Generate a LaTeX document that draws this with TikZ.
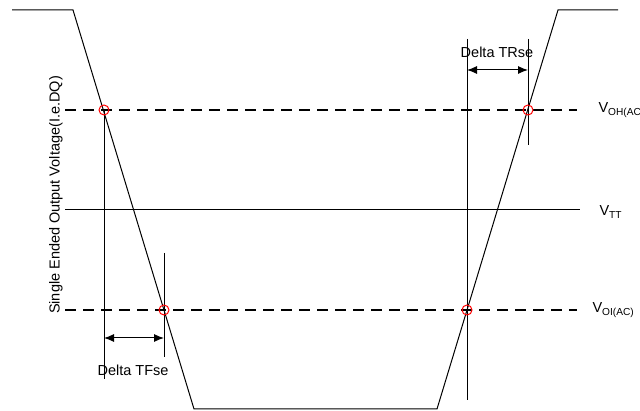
\documentclass[tikz,border=0pt]{standalone}
\usepackage{fontspec}
\setmainfont{Liberation Sans}
\usepackage{tikz}
\usetikzlibrary{arrows.meta}

\begin{document}
\begin{tikzpicture}[x=1pt,y=-1pt,line width=1pt,
    lvl/.style={line width=2.4pt,dash pattern=on 11pt off 7pt},
    tick/.style={line width=1pt},
    xing/.style={red,line width=1pt},
    span/.style={{Latex[length=10pt,width=8pt]}-{Latex[length=10pt,width=8pt]}},
    lbl/.style={font=\fontsize{14.5}{16}\selectfont,inner sep=0pt}]
    \useasboundingbox (0,0) rectangle (640,411);

    % Waveform corners
    \coordinate (hiL) at (12,10);
    \coordinate (fallTop) at (73,10);
    \coordinate (fallBot) at (194,409);
    \coordinate (riseBot) at (437,409);
    \coordinate (riseTop) at (558,10);
    \coordinate (hiR) at (618,10);

    % Crossing points
    \coordinate (ohF) at (104,110);
    \coordinate (olF) at (164,310);
    \coordinate (olR) at (467,310);
    \coordinate (ohR) at (528,110);

    % Reference levels
    \draw[lvl] (65,110) -- (577,110);
    \draw (65,210) -- (580,210);
    \draw[lvl] (65,310) -- (577,310);

    % Output waveform
    \draw (hiL) -- (fallTop) -- (fallBot) -- (riseBot) -- (riseTop) -- (hiR);

    % Marker lines
    \draw[tick] (ohF) -- (104,379);
    \draw[tick] (164,253) -- (164,357);
    \draw[tick] (467,39) -- (467,400);
    \draw[tick] (528,39) -- (528,145);

    % Delta arrows
    \draw[span] (104,338) -- (164,338);
    \draw[span] (467,70) -- (528,70);
    \node[lbl] (tfse) at (133,370) {Delta TFse};
    \node[lbl] (trse) at (497,52) {Delta TRse};

    % Crossing circles
    \foreach \p in {ohF,olF,olR,ohR} {
        \draw[xing] (\p) circle (5);
    }

    % Level labels
    \node[lbl,anchor=west] (voh) at (598,110) {V\textsubscript{OH(AC)}};
    \node[lbl,anchor=west] (vtt) at (599,212) {V\textsubscript{TT}};
    \node[lbl,anchor=west] (vol) at (592,310) {V\textsubscript{OI(AC)}};

    % Axis label
    \node[lbl,rotate=90] (ylab) at (56,195) {Single Ended Output Voltage(I.e.DQ)};
\end{tikzpicture}
\end{document}
